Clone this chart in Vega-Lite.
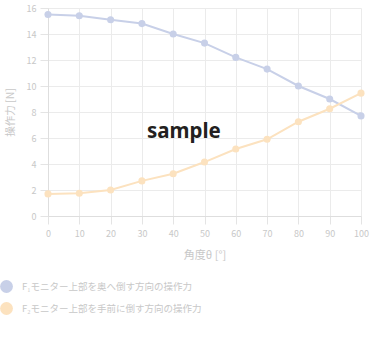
{
  "$schema": "https://vega.github.io/schema/vega-lite/v6.json",
  "width": 313,
  "height": 208,
  "autosize": "none",
  "padding": {"left": 48, "top": 8, "right": 10, "bottom": 125},
  "background": "white",
  "config": {
    "view": {"stroke": null},
    "font": "Noto Sans CJK JP",
    "axis": {
      "labelColor": "#c8c8c8",
      "titleColor": "#c8c8c8",
      "labelFontSize": 9,
      "titleFontSize": 11,
      "titleFontWeight": "normal",
      "gridColor": "#ebebeb",
      "domainColor": "#dedede",
      "tickColor": "#e4e4e4"
    }
  },
  "datasets": {
    "force": [
      {"angle": 0, "force": 15.5, "series": "F₁モニター上部を奥へ倒す方向の操作力"},
      {"angle": 10, "force": 15.4, "series": "F₁モニター上部を奥へ倒す方向の操作力"},
      {"angle": 20, "force": 15.1, "series": "F₁モニター上部を奥へ倒す方向の操作力"},
      {"angle": 30, "force": 14.8, "series": "F₁モニター上部を奥へ倒す方向の操作力"},
      {"angle": 40, "force": 14.0, "series": "F₁モニター上部を奥へ倒す方向の操作力"},
      {"angle": 50, "force": 13.3, "series": "F₁モニター上部を奥へ倒す方向の操作力"},
      {"angle": 60, "force": 12.2, "series": "F₁モニター上部を奥へ倒す方向の操作力"},
      {"angle": 70, "force": 11.3, "series": "F₁モニター上部を奥へ倒す方向の操作力"},
      {"angle": 80, "force": 10.0, "series": "F₁モニター上部を奥へ倒す方向の操作力"},
      {"angle": 90, "force": 9.0, "series": "F₁モニター上部を奥へ倒す方向の操作力"},
      {"angle": 100, "force": 7.7, "series": "F₁モニター上部を奥へ倒す方向の操作力"},
      {"angle": 0, "force": 1.7, "series": "F₂モニター上部を手前に倒す方向の操作力"},
      {"angle": 10, "force": 1.75, "series": "F₂モニター上部を手前に倒す方向の操作力"},
      {"angle": 20, "force": 2.0, "series": "F₂モニター上部を手前に倒す方向の操作力"},
      {"angle": 30, "force": 2.7, "series": "F₂モニター上部を手前に倒す方向の操作力"},
      {"angle": 40, "force": 3.25, "series": "F₂モニター上部を手前に倒す方向の操作力"},
      {"angle": 50, "force": 4.15, "series": "F₂モニター上部を手前に倒す方向の操作力"},
      {"angle": 60, "force": 5.15, "series": "F₂モニター上部を手前に倒す方向の操作力"},
      {"angle": 70, "force": 5.9, "series": "F₂モニター上部を手前に倒す方向の操作力"},
      {"angle": 80, "force": 7.25, "series": "F₂モニター上部を手前に倒す方向の操作力"},
      {"angle": 90, "force": 8.25, "series": "F₂モニター上部を手前に倒す方向の操作力"},
      {"angle": 100, "force": 9.45, "series": "F₂モニター上部を手前に倒す方向の操作力"}
    ],
    "stamp": [{"angle": 41.5, "force": 6.5, "label": "sample"}]
  },
  "layer": [
    {
      "data": {"name": "force"},
      "mark": {"type": "line", "strokeWidth": 2},
      "encoding": {
        "x": {
          "field": "angle", "type": "quantitative",
          "scale": {"domain": [0, 100], "nice": false},
          "axis": {"values": [0,10,20,30,40,50,60,70,80,90,100], "tickCount": 11, "labelOverlap": false, "labelFlush": false, "title": "角度θ [°]", "titlePadding": 11, "tickSize": 8, "labelPadding": 5}
        },
        "y": {
          "field": "force", "type": "quantitative",
          "scale": {"domain": [0, 16], "nice": false},
          "axis": {"values": [0,2,4,6,8,10,12,14,16], "tickCount": 9, "labelOverlap": false, "labelFlush": false, "title": "操作力 [N]", "titleFontSize": 10.5, "titlePadding": 11, "tickSize": 8, "labelPadding": 4}
        },
        "color": {
          "field": "series", "type": "nominal",
          "scale": {"range": ["#c8d0e8", "#fce2bf"]},
          "legend": {
            "title": null,
            "orient": "none",
            "legendX": -48,
            "legendY": 272,
            "symbolType": "circle",
            "symbolSize": 165,
            "symbolOpacity": 1,
            "symbolStrokeWidth": 0,
            "labelFontSize": 9.5,
            "labelColor": "#c8c8c8",
            "labelOffset": 9,
            "rowPadding": 9,
            "labelLimit": 400
          }
        }
      }
    },
    {
      "data": {"name": "force"},
      "mark": {"type": "circle", "size": 50, "opacity": 1},
      "encoding": {
        "x": {"field": "angle", "type": "quantitative"},
        "y": {"field": "force", "type": "quantitative"},
        "color": {"field": "series", "type": "nominal"}
      }
    },
    {
      "data": {"name": "stamp"},
      "mark": {"type": "text", "font": "Noto Sans", "fontSize": 20.5, "fontWeight": "bold", "color": "#231f20", "align": "center", "baseline": "middle", "dx": 6},
      "encoding": {
        "x": {"field": "angle", "type": "quantitative"},
        "y": {"field": "force", "type": "quantitative"},
        "text": {"field": "label"}
      }
    }
  ]
}
